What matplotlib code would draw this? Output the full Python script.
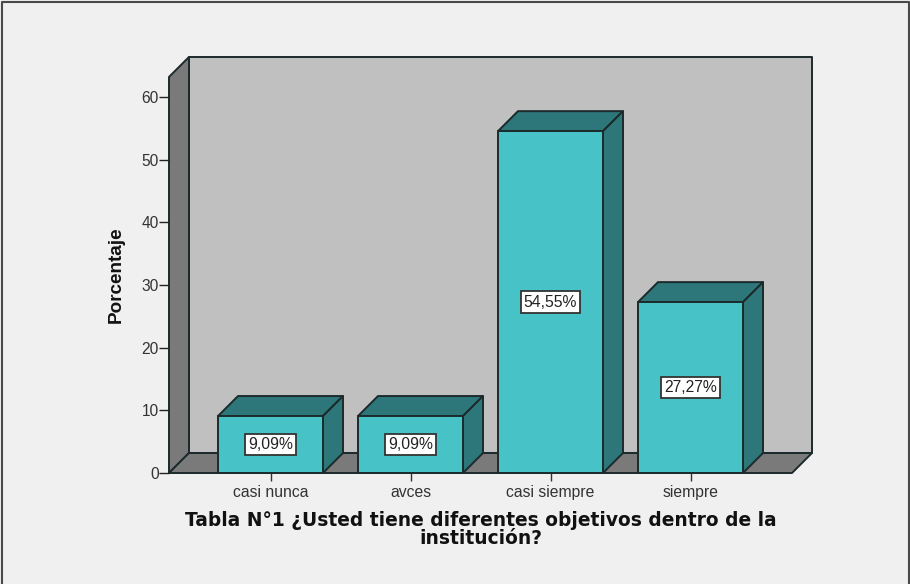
#!/usr/bin/env python3
"""Bar chart with a box-style 3D look: walls, floor and extruded bars."""

import matplotlib
matplotlib.use('Agg')
import matplotlib.pyplot as plt
from matplotlib.lines import Line2D
from matplotlib.patches import Polygon, Rectangle

categories = ['casi nunca', 'avces', 'casi siempre', 'siempre']
percentages = [9.09, 9.09, 54.55, 27.27]
value_labels = ['9,09%', '9,09%', '54,55%', '27,27%']
y_ticks = [0, 10, 20, 30, 40, 50, 60]

WIDTH, HEIGHT = 910, 584
BG = '#f0f0f0'
WALL = '#c0c0c0'
SIDE_WALL = '#7a7a7a'
BAR_FRONT = '#47c3c8'
BAR_DARK = '#2d7679'
EDGE = '#1c2a2b'

plt.rcParams['font.family'] = ['Liberation Sans', 'DejaVu Sans']

fig = plt.figure(figsize=(WIDTH / 100, HEIGHT / 100), dpi=100, facecolor=BG)

# axes rectangle is the front plane of the box, in pixels
left, right, bottom, top = 169, 792, 473, 97
ax = fig.add_axes([left / WIDTH, 1 - bottom / HEIGHT,
                   (right - left) / WIDTH, (bottom - top) / HEIGHT])
ax.set_xlim(-0.725, 3.725)
ax.set_ylim(0, 60)
ax.patch.set_visible(False)
for spine in ax.spines.values():
    spine.set_visible(False)

# depth of the extrusion in data units (20 px each way)
dx = 20 * (ax.get_xlim()[1] - ax.get_xlim()[0]) / (right - left)
dy = 20 * 60 / (bottom - top)
x0, x1 = ax.get_xlim()
y_top = 63.2


def poly(points, color, lw=1.4, z=1):
    ax.add_patch(Polygon(points, closed=True, facecolor=color, edgecolor=EDGE,
                         linewidth=lw, clip_on=False, zorder=z, joinstyle='round'))


# back wall, side wall, floor
poly([(x0 + dx, dy), (x1 + dx, dy), (x1 + dx, y_top + dy), (x0 + dx, y_top + dy)], WALL)
poly([(x0, 0), (x0 + dx, dy), (x0 + dx, y_top + dy), (x0, y_top)], SIDE_WALL)
poly([(x0, 0), (x1, 0), (x1 + dx, dy), (x0 + dx, dy)], SIDE_WALL)

bar_w = 0.75
for i, val in enumerate(percentages):
    l, r = i - bar_w / 2, i + bar_w / 2
    poly([(l, val), (r, val), (r + dx, val + dy), (l + dx, val + dy)], BAR_DARK, z=3)
    poly([(r, 0), (r + dx, dy), (r + dx, val + dy), (r, val)], BAR_DARK, z=3)
    ax.add_patch(Rectangle((l, 0), bar_w, val, facecolor=BAR_FRONT, edgecolor=EDGE,
                           linewidth=1.4, clip_on=False, zorder=4))
    ax.text(i, val / 2, value_labels[i], ha='center', va='center', fontsize=11.3,
            color='#222222', zorder=5,
            bbox=dict(boxstyle='square,pad=0.2', facecolor='white',
                      edgecolor='#333333', linewidth=1.3))

ax.set_xticks(range(len(categories)))
ax.set_xticklabels(categories, fontsize=11.3, color='#333333')
ax.set_yticks(y_ticks)
ax.tick_params(axis='x', length=6, width=1, color='#333333', pad=2.5)
ax.tick_params(axis='y', length=7, width=1, color='#222222', pad=0.5,
               labelsize=11.2, labelcolor='#333333')

fig.text(116 / WIDTH, 1 - 275 / HEIGHT, 'Porcentaje', rotation=90, ha='center',
         va='center', fontsize=13.6, fontweight='bold', color='#111111')
fig.text(480.5 / WIDTH, 1 - 529.5 / HEIGHT,
         'Tabla N°1 ¿Usted tiene diferentes objetivos dentro de la\ninstitución?',
         ha='center', va='center', fontsize=13.4, fontweight='bold', color='#111111',
         family=['DejaVu Sans'], linespacing=0.98)

# outer frame of the chart: left, top and right sides only
fx0, fx1, fy = 1.5 / WIDTH, 908.5 / WIDTH, 1 - 1.5 / HEIGHT
fig.add_artist(Line2D([fx0, fx0, fx1, fx1], [0, fy, fy, 0],
                      transform=fig.transFigure, color='#4a4a4a', linewidth=1.5))

fig.savefig('out.png', dpi=100, facecolor=BG)
